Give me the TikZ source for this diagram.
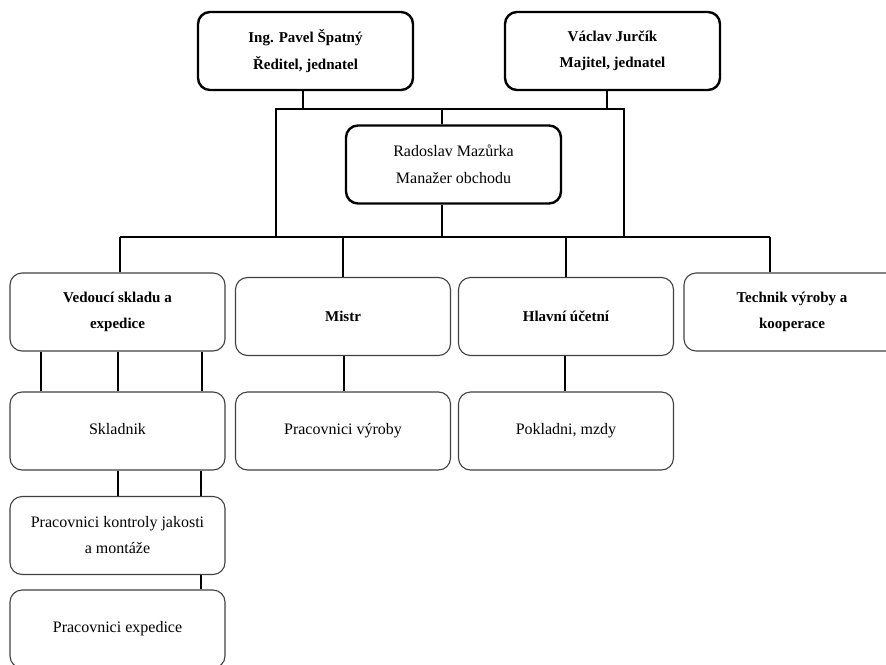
\documentclass[tikz,border=0pt]{standalone}
\usepackage{fontspec}
\setmainfont{Liberation Serif}
\usepackage{tikz}

\tikzset{
  boss/.style={draw=black, line width=2.4pt, rounded corners=12pt, minimum width=215pt, minimum height=78pt, align=center, font=\fontsize{16}{27}\selectfont},
  unit/.style={draw=black!75, line width=1.1pt, rounded corners=12pt, minimum width=215pt, minimum height=78pt, align=center, font=\fontsize{16}{26}\selectfont},
  heavy/.style={font=\fontsize{15}{26.5}\selectfont\bfseries},
  link/.style={draw=black, line width=1.8pt}
}

\begin{document}
\begin{tikzpicture}[x=1pt,y=-1pt]
\useasboundingbox (0,0) rectangle (886,664);
\node[boss, heavy] (spatny) at (305.5,51) {Ing. Pavel Špatný\\Ředitel, jednatel};
\node[boss, heavy] (jurcik) at (612.5,51) {Václav Jurčík\\Majitel, jednatel};
\node[boss] (mazurka) at (453.5,164.5) {Radoslav Mazůrka\\Manažer obchodu};
\node[unit, heavy] (vedouci) at (117.5,312) {Vedoucí skladu a\\expedice};
\node[unit, heavy] (mistr) at (343,316.5) {Mistr};
\node[unit, heavy] (hlavni) at (566,316.5) {Hlavní účetní};
\node[unit, heavy, minimum width=216pt] (technik) at (792,312) {Technik výroby a\\kooperace};
\node[unit] (skladnik) at (117.5,431) {\raisebox{4pt}{Skladnik}};
\node[unit] (vyroby) at (343,431) {Pracovnici výroby};
\node[unit] (pokladni) at (566,431) {\raisebox{-4pt}{Pokladni, mzdy}};
\node[unit] (kontrola) at (117.5,535.5) {Pracovnici kontroly jakosti\\a montáže};
\node[unit] (expedice) at (117.5,629) {Pracovnici expedice};
\coordinate (barA) at (276,109);
\coordinate (barB) at (624,109);
\coordinate (barC) at (120,237);
\coordinate (barD) at (770,237);
\draw[link] ([xshift=-2.5pt]spatny.south) -- ([xshift=-2.5pt]spatny.south |- barA);
\draw[link] ([xshift=-5.5pt]jurcik.south) -- ([xshift=-5.5pt]jurcik.south |- barA);
\draw[link] (barA |- barC) -- (barA) -- (barB) -- (barB |- barC);
\draw[link] ([xshift=-11.5pt]mazurka.north) -- ([xshift=-11.5pt]mazurka.north |- barA);
\draw[link] ([xshift=-11.5pt]mazurka.south) -- ([xshift=-11.5pt]mazurka.south |- barC);
\draw[link] (barC) -- (barD);
\draw[link] (barC) -- (barC |- vedouci.north);
\draw[link] (mistr.north |- barC) -- (mistr.north);
\draw[link] (hlavni.north |- barC) -- (hlavni.north);
\draw[link] ([xshift=-22pt]technik.north |- barC) -- ([xshift=-22pt]technik.north);
\foreach \dx in {-76.5,0.5,84.5}
\draw[link] ([xshift=\dx pt]vedouci.south) -- ([xshift=\dx pt]skladnik.north);
\foreach \dx in {0.5,83.5}
\draw[link] ([xshift=\dx pt]skladnik.south) -- ([xshift=\dx pt]kontrola.north);
\draw[link] ([xshift=83.5pt]kontrola.south) -- ([xshift=83.5pt]expedice.north);
\draw[link] ([xshift=1pt]mistr.south) -- ([xshift=1pt]vyroby.north);
\draw[link] ([xshift=-1pt]hlavni.south) -- ([xshift=-1pt]pokladni.north);
\end{tikzpicture}
\end{document}
